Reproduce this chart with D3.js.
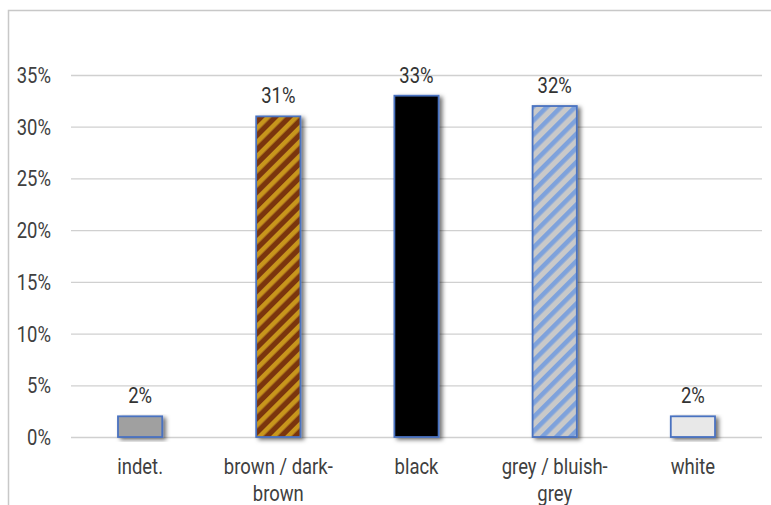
<!DOCTYPE html>
<html>
<head>
<meta charset="utf-8">
<script src="https://cdn.jsdelivr.net/npm/d3@7"></script>
<style>
  body { margin: 0; background: #fff; }
  text { font-family: Roboto, "Liberation Sans", sans-serif; }
</style>
</head>
<body>
<div id="chart"></div>
<script>
// Hair colour shares
const categories = ["indet.", "brown / dark-brown", "black", "grey / bluish-grey", "white"];
const catLines = [["indet."], ["brown / dark-", "brown"], ["black"], ["grey / bluish-", "grey"], ["white"]];
const values = [2, 31, 33, 32, 2];
const yTicks = [0, 5, 10, 15, 20, 25, 30, 35];

const width = 771, height = 505;
const margin = { top: 75, right: 9, bottom: 68, left: 71 };
const squeeze = 0.84; // narrow the font like the original condensed face
const fontSize = 22;

const svg = d3.select("#chart").append("svg")
    .attr("width", width)
    .attr("height", height);

const defs = svg.append("defs");

// striped fills
function stripes(id, bg, fg) {
    const p = defs.append("pattern")
        .attr("id", id)
        .attr("patternUnits", "userSpaceOnUse")
        .attr("width", 10).attr("height", 10)
        .attr("patternTransform", "rotate(45)");
    p.append("rect").attr("width", 10).attr("height", 10).attr("fill", bg);
    p.append("rect").attr("width", 4.6).attr("height", 10).attr("fill", fg);
}
stripes("brownStripe", "#7a3510", "#c8961f");
stripes("greyStripe", "#c9c9c9", "#7ea2dc");

const shadow = defs.append("filter").attr("id", "shadow")
    .attr("x", "-30%").attr("y", "-10%").attr("width", "160%").attr("height", "130%");
shadow.append("feDropShadow")
    .attr("dx", 3).attr("dy", 2).attr("stdDeviation", 2.2)
    .attr("flood-color", "#000").attr("flood-opacity", 0.55);

const fills = ["#a0a0a0", "url(#brownStripe)", "#000000", "url(#greyStripe)", "#e8e8e8"];

// frame
svg.append("path")
    .attr("d", `M8.5,${height} V10.5 H${width}`)
    .attr("fill", "none")
    .attr("stroke", "#c8c8c8")
    .attr("stroke-width", 1.5);

const x = d3.scaleBand()
    .domain(categories)
    .range([margin.left, width - margin.right])
    .paddingInner(0.68)
    .paddingOuter(0.34);

const y = d3.scaleLinear()
    .domain([0, 35])
    .range([height - margin.bottom, margin.top]);

// text helper: condensed by horizontal scaling
function label(g, tx, ty, lines, anchor, fill) {
    const t = g.append("g")
        .attr("transform", `translate(${tx},${ty}) scale(${squeeze},1)`)
        .append("text")
        .attr("text-anchor", anchor)
        .attr("font-size", fontSize)
        .attr("fill", fill);
    lines.forEach((s, i) => {
        t.append("tspan").attr("x", 0).attr("dy", i === 0 ? 0 : 27).text(s);
    });
}

// gridlines
svg.append("g")
    .selectAll("line")
    .data(yTicks)
    .join("line")
    .attr("x1", margin.left)
    .attr("x2", width - margin.right)
    .attr("y1", d => y(d) + 0.5)
    .attr("y2", d => y(d) + 0.5)
    .attr("stroke", "#d0d0d0")
    .attr("stroke-width", 1.3);

// y axis labels
const yAxis = svg.append("g");
yTicks.forEach(v => label(yAxis, 51, y(v) + 8, [v + "%"], "end", "#404040"));

// bars
svg.append("g")
    .selectAll("rect")
    .data(values)
    .join("rect")
    .attr("x", (d, i) => x(categories[i]))
    .attr("y", d => y(d))
    .attr("width", x.bandwidth())
    .attr("height", d => y(0) - y(d))
    .attr("fill", (d, i) => fills[i])
    .attr("stroke", "#4a72c0")
    .attr("stroke-width", 1.8)
    .attr("filter", "url(#shadow)");

// value labels
const vl = svg.append("g");
values.forEach((v, i) => label(vl, x(categories[i]) + x.bandwidth() / 2, y(v) - 13, [v + "%"], "middle", "#333"));

// category labels
const cl = svg.append("g");
catLines.forEach((lines, i) => label(cl, x(categories[i]) + x.bandwidth() / 2, 474, lines, "middle", "#404040"));
</script>
</body>
</html>
